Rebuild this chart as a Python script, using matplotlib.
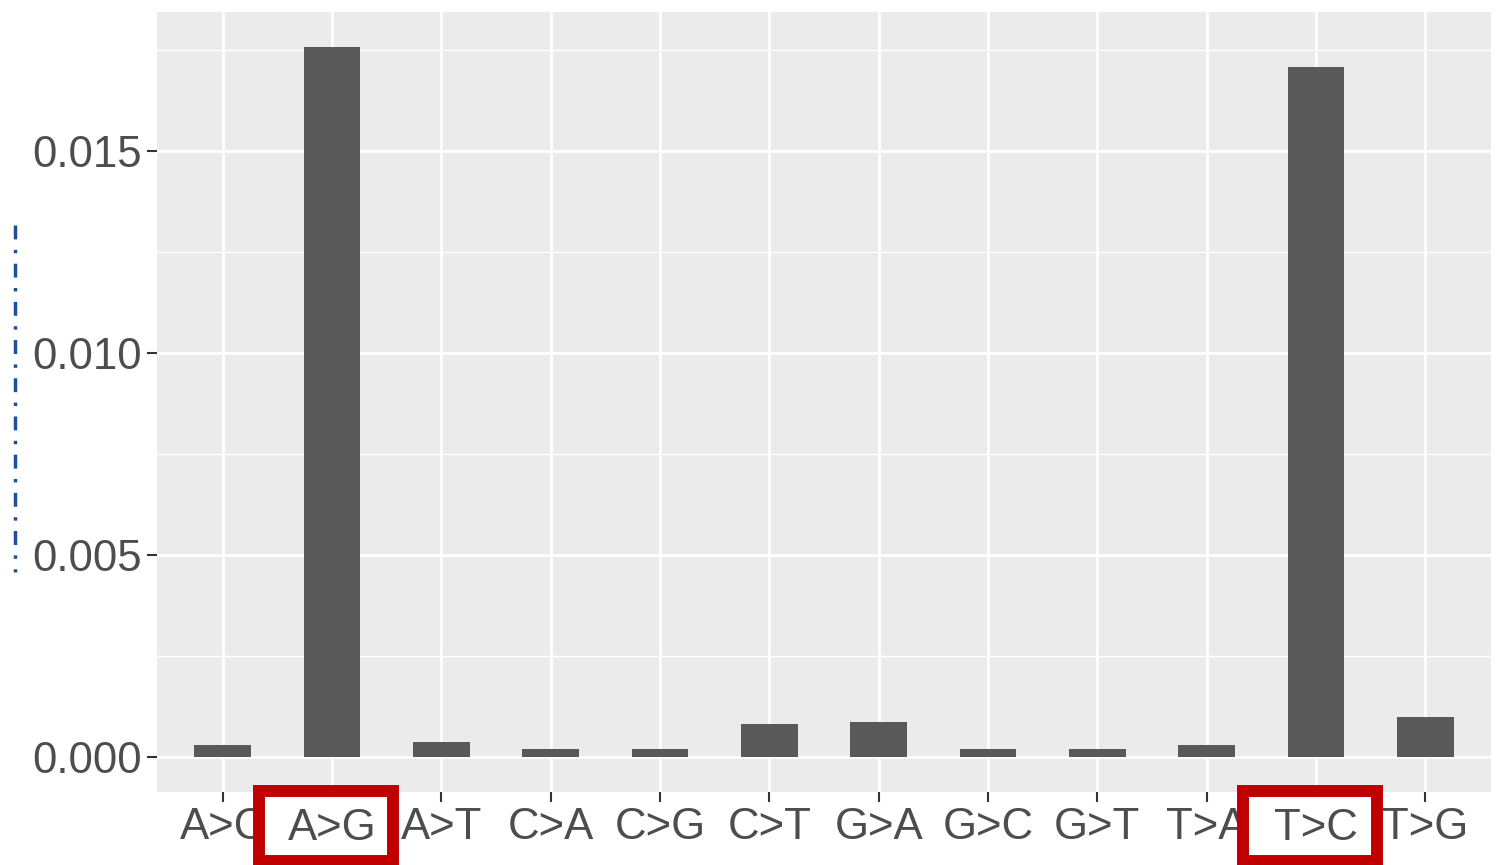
import matplotlib.pyplot as plt
from matplotlib.patches import Rectangle
from matplotlib.lines import Line2D
import matplotlib.transforms as mtransforms

mutations = ["A>C", "A>G", "A>T", "C>A", "C>G", "C>T",
             "G>A", "G>C", "G>T", "T>A", "T>C", "T>G"]
rates = [0.00030, 0.01757, 0.00037, 0.00020, 0.00020, 0.00082,
         0.00087, 0.00020, 0.00020, 0.00030, 0.01708, 0.00099]
highlighted = ["A>G", "T>C"]
y_ticks = [0.000, 0.005, 0.010, 0.015]

plt.rcParams['font.family'] = ['Liberation Sans', 'DejaVu Sans']

fig = plt.figure(figsize=(14.99, 8.65), dpi=100)
ax = fig.add_axes([157 / 1499, (865 - 792) / 865, (1491 - 157) / 1499, (792 - 12) / 865])
ax.set_facecolor('#EBEBEB')

x = list(range(len(mutations)))
ax.bar(x, rates, width=0.52, color='#595959', zorder=3)

ax.set_xlim(-0.6, len(mutations) - 0.4)
ax.set_ylim(-0.000866, 0.01844)
ax.set_xticks(x)
ax.set_xticklabels(mutations)
ax.set_yticks(y_ticks)
ax.set_yticklabels([f"{v:.3f}" for v in y_ticks])
ax.set_yticks([0.0025, 0.0075, 0.0125, 0.0175], minor=True)

ax.grid(which='major', color='white', linewidth=2.0, zorder=0)
ax.grid(which='minor', axis='y', color='white', linewidth=1.0, zorder=0)
ax.set_axisbelow(True)
for s in ax.spines.values():
    s.set_visible(False)

ax.tick_params(axis='both', which='major', length=7, width=1.5, color='#333333',
               labelsize=31.5, labelcolor='#4D4D4D', pad=4)
ax.tick_params(axis='both', which='minor', length=0)

# red boxes around highlighted labels
trans = mtransforms.blended_transform_factory(ax.transData, fig.transFigure)
for lab in highlighted:
    i = mutations.index(lab)
    rect = Rectangle((i - 0.665, (865 - 861) / 865), 1.225, 70 / 865,
                     transform=trans, facecolor='white', edgecolor='#C00000',
                     linewidth=8.6, zorder=5, clip_on=False)
    fig.add_artist(rect)
    fig.text(i, (865 - 828) / 865, lab, transform=trans, ha='center', va='center',
             fontsize=31.5, color='#4D4D4D', zorder=6)

# dashed blue marker at the left edge
fig.add_artist(Line2D([15 / 1499, 15 / 1499], [1 - 225 / 865, 1 - 572 / 865],
                      transform=fig.transFigure, color='#1F4E9A', linewidth=2.5,
                      linestyle=(0, (4, 3, 1, 3))))

fig.savefig('out.png', dpi=100)
